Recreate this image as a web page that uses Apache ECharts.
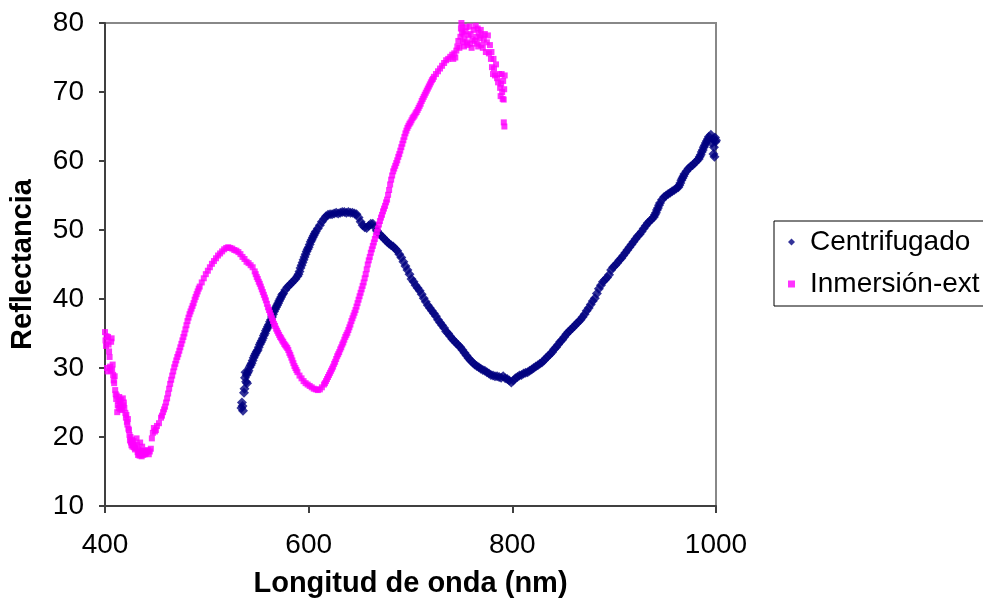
<!DOCTYPE html>
<html>
<head>
<meta charset="utf-8">
<script src="https://cdn.jsdelivr.net/npm/echarts@6/dist/echarts.min.js"></script>
<style>
html,body{margin:0;padding:0;background:#fff;}
#chart{width:983px;height:606px;}
</style>
</head>
<body>
<div id="chart"></div>
<script>
const xTicks = [400, 600, 800, 1000];
const yTicks = [10, 20, 30, 40, 50, 60, 70, 80];
const seriesNames = ['Centrifugado', 'Inmersión-ext'];
const xTitle = 'Longitud de onda (nm)';
const yTitle = 'Reflectancia';

const centrifugado = [
[534,24.2],[534.5,25.0],[535,24.5],[535.5,23.8],[536.5,26.4],[537,27.0],[537.5,28.6],[538,29.4],[538.5,28.0],[539,29.0],[539.5,27.8],[540,29.3],
[541,29.6],[542,30.1],[543,30.4],[544,30.7],[545,31.1],[546,31.5],[547,31.8],[548,32.1],[549,32.4],[550,32.6],[551,33.0],[552,33.4],[553,33.7],[554,34.0],[555,34.3],[556,34.7],[557,35.0],[558,35.4],[559,35.7],[560,36.0],[561,36.3],[562,36.7],[563,37.0],[564,37.4],[565,37.8],[566,38.2],[567,38.5],[568,38.8],[569,39.1],[570,39.4],[571,39.7],[572,40.0],[573,40.3],[574,40.6],[575,40.8],[577,41.3],[579,41.7],[581,42.0],[583,42.3],[585,42.6],[587,42.9],[589,43.3],[590,43.6],[591,44.0],[592,44.5],[593,44.9],[594,45.3],[595,45.7],[596,46.1],[597,46.5],[598,46.9],[599,47.2],[600,47.5],[601,47.9],[602,48.3],[603,48.6],[604,48.9],[605,49.2],[606,49.5],[607,49.8],[609,50.2],[611,50.7],[613,51.2],[615,51.6],[617,52.0],[619,52.2],[621,52.3],[623,52.3],[625,52.4],[627,52.5],[629,52.4],[631,52.5],[633,52.6],[635,52.6],[637,52.5],[639,52.6],[641,52.5],[643,52.5],[645,52.4],[647,52.3],
[649,51.8],[651,51.2],[653,50.7],[655,50.4],[657,50.3],[659,50.6],[661,50.9],[663,50.9],[665,50.4],[667,49.9],[669,49.5],[671,49.2],[673,48.9],[675,48.6],[677,48.3],[679,48.0],[681,47.8],[683,47.6],[685,47.3],[687,47.0],[689,46.5],[691,46.0],[693,45.4],[695,44.8],[697,44.2],[699,43.6],
[701,42.9],[703,42.5],[705,42.0],[707,41.6],[709,41.2],[711,40.7],[713,40.1],[715,39.6],[717,39.1],[719,38.7],[721,38.3],[723,37.9],[725,37.5],[727,37.0],[729,36.6],[731,36.2],[733,35.8],[735,35.3],[737,35.0],[739,34.6],[741,34.2],[743,33.9],[745,33.6],[747,33.3],[749,33.0],[751,32.6],[753,32.2],[755,31.8],[757,31.4],[759,31.1],[761,30.8],[763,30.5],[765,30.3],[767,30.1],[769,29.9],[771,29.7],[773,29.6],[775,29.4],[777,29.2],[779,29.0],[781,28.9],[783,28.8],[785,28.8],[787,28.7],[789,28.6],[791,28.8],[793,28.5],[795,28.4],[797,28.2],[799,27.9],
[801,28.2],[803,28.5],[805,28.7],[807,28.9],[809,29.0],[811,29.2],[813,29.3],[815,29.4],[817,29.6],[819,29.8],[821,30.0],[823,30.2],[825,30.4],[827,30.6],[829,30.8],[831,31.1],[833,31.4],[835,31.7],[837,32.0],[839,32.3],
[841,32.7],[843,33.0],[845,33.4],[847,33.8],[849,34.1],[851,34.5],[853,34.9],[855,35.2],[857,35.5],[859,35.8],[861,36.1],[863,36.4],[865,36.7],[867,37.0],[869,37.4],[871,37.8],[873,38.3],[875,38.7],[877,39.2],[879,39.7],[881,40.1],[883,40.8],[885,41.5],[887,42.0],[889,42.5],[891,42.8],[893,43.1],[895,43.5],[897,44.2],[899,44.6],[901,44.9],[903,45.2],[905,45.6],[907,45.9],[909,46.3],[911,46.7],[913,47.1],[915,47.5],[917,47.9],[919,48.3],[921,48.7],[923,49.1],[925,49.4],[927,49.8],[929,50.2],[931,50.6],[933,51.0],[935,51.3],[937,51.6],[939,51.9],[940,52.2],[941,52.5],[942,52.9],[943,53.2],[944,53.6],[945,53.9],[947,54.4],[949,54.8],[951,55.0],[953,55.2],[955,55.4],[957,55.6],[959,55.8],[961,56.0],[963,56.2],[964,56.5],[965,56.8],[966,57.2],[967,57.5],[968,57.8],[969,58.1],[971,58.5],[973,58.9],[975,59.2],[977,59.4],[979,59.7],[981,60.0],[983,60.3],[984,60.6],[985,60.9],[986,61.3],[987,61.6],[988,62.0],[989,62.3],[990,62.6],[991,62.9],[992,63.2],[993,63.5],[995,63.8],[996,62.6],[997,63.2],[997.5,61.0],[998,62.0],[998.5,60.6],[999,63.4],[999.5,62.8],[1000,63.0]
];

const inmersionExt = [
[400,35.2],[400.5,34.0],[401,33.2],[401.5,34.6],[402,30.0],[402.5,29.5],[403,34.5],[403.5,33.4],[404,32.4],[404.5,31.6],[405,30.2],[405.5,29.6],[406,33.8],[406.5,34.3],[407,29.8],[407.5,30.5],[408,29.0],[408.5,28.2],[409,27.8],[409.5,28.8],[410,26.8],[410.5,26.2],[411,25.5],[411.5,26.0],[412,23.6],[412.5,24.6],[413,25.2],[413.5,24.2],[414,25.8],[414.5,24.8],[415,24.0],[415.5,25.4],[416,24.4],[417,23.9],[417.5,25.6],[418,24.6],[418.5,25.0],[419,24.2],[420,23.5],[420.5,22.8],[421,23.2],[421.5,22.2],[422,21.8],[422.5,22.6],[423,21.2],[423.5,21.0],[424,20.3],[424.5,19.5],[425,20.0],[425.5,19.2],[426,18.8],[426.5,19.6],[427,18.6],[427.5,18.9],[428,19.4],[428.5,18.5],[429,18.8],[429.5,18.2],[430,18.4],[431,19.8],[431.5,18.9],[432,17.8],[432.5,17.4],[433,18.2],[433.5,17.6],[434,17.3],[434.5,19.2],[435,18.0],[435.5,17.5],[436,17.2],[436.5,18.6],[437,17.7],[437.5,17.4],[438,17.9],[439,17.5],[439.5,18.0],[440,17.6],[441,17.8],[442,18.1],[443,17.5],[444,17.9],[445,18.3],[446,19.8],[447,20.6],[448,21.3],[449,20.8],[450,21.0],
[451,21.6],[453,22.0],[455,22.8],[456,23.1],[457,23.6],[458,24.0],[459,24.4],[460,25.0],[461,25.6],[462,26.3],[463,27.0],[464,27.7],[465,28.3],[466,28.9],[467,29.5],[468,30.1],[469,30.6],[470,31.1],[471,31.6],[472,32.0],[473,32.5],[474,33.0],[475,33.5],[476,34.0],[477,34.5],[478,35.0],[479,35.6],[480,36.2],[481,36.8],[482,37.3],[483,37.8],[484,38.2],[485,38.6],[486,39.0],[487,39.4],[488,39.9],[489,40.3],[490,40.7],[491,41.1],[492,41.5],[493,41.8],[495,42.4],[497,43.0],[499,43.6],[501,44.1],[503,44.6],[505,45.1],[507,45.5],[509,45.9],[511,46.3],[513,46.6],[515,46.9],[517,47.2],[519,47.4],[521,47.5],[523,47.4],[525,47.3],[527,47.1],[529,47.0],[531,46.8],
[533,46.5],[535,46.1],[537,45.8],[539,45.4],[541,45.2],[543,44.9],[545,44.6],[547,44.0],[548,43.6],[549,43.2],[550,42.9],[551,42.5],[552,42.2],[553,41.8],[554,41.4],[555,41.0],[556,40.6],[557,40.2],[558,39.8],[559,39.3],[560,38.8],[561,38.4],[562,38.0],[563,37.6],[564,37.2],[565,36.8],[566,36.4],[567,36.1],[568,35.7],[569,35.4],[570,35.1],[571,34.8],[572,34.5],[573,34.3],[574,34.0],[575,33.8],[576,33.5],[577,33.3],[578,33.1],[579,32.9],[580,32.6],[581,32.2],[582,31.9],[583,31.5],[584,31.1],[585,30.7],[586,30.3],[587,30.0],[588,29.7],[589,29.4],[591,28.9],[593,28.5],[595,28.1],[597,27.8],[599,27.6],[601,27.4],[603,27.2],[605,27.0],[607,26.9],[609,26.8],[611,26.9],[613,27.2],[615,27.6],[616,27.8],[617,28.1],[618,28.4],[619,28.7],[620,29.0],[621,29.3],[622,29.6],[623,29.9],[624,30.2],[625,30.6],[626,30.9],[627,31.3],[628,31.7],[629,32.0],[630,32.3],[631,32.7],[632,33.0],[633,33.4],[634,33.7],[635,34.1],[636,34.5],[637,34.8],[638,35.1],[639,35.5],[640,35.9],[641,36.3],[642,36.8],[643,37.2],[644,37.6],[645,38.0],[646,38.4],[647,38.9],[648,39.4],[649,39.9],[650,40.4],[651,40.9],[652,41.4],[653,41.9],[654,42.4],[655,43.0],[656,43.6],[657,44.3],[658,45.0],[659,45.6],[660,46.1],[661,46.7],[662,47.2],[663,47.7],[664,48.2],[665,48.7],[666,49.2],[667,49.7],[668,50.2],[669,50.8],[670,51.3],[671,51.8],[672,52.2],[673,52.7],[674,53.1],[675,53.5],[676,54.0],[677,54.4],[678,55.1],[679,55.8],[680,56.6],[681,57.3],[682,57.9],[683,58.5],[684,58.9],[685,59.3],[686,59.7],[687,60.1],[688,60.6],[689,61.0],[690,61.5],[691,62.0],[692,62.5],[693,63.0],[694,63.5],[695,64.0],[696,64.4],[697,64.8],[698,65.1],[699,65.4],[700,65.6],[701,65.9],[702,66.2],[703,66.4],[704,66.6],[705,66.9],[706,67.1],[707,67.4],[708,67.7],[709,68.0],[710,68.3],[711,68.7],[712,69.0],[713,69.3],[714,69.6],[715,69.9],[716,70.2],[717,70.5],[718,70.8],[719,71.1],[720,71.4],[721,71.7],[722,71.9],[723,72.2],[725,72.6],[727,73.0],[729,73.4],[731,73.8],[733,74.2],[735,74.6],[737,74.8],[739,75.1],
[741,75.4],[742,74.8],[743,75.6],[744,75.0],[745,76.0],[746,76.6],[747,77.4],[748,76.4],[749,78.0],[749.5,79.2],[750,80.0],[750.5,78.6],[751,79.4],[751.5,77.2],[752,78.4],[752.5,76.6],[753,77.6],[754,78.8],[755,79.4],[755.5,77.2],[756,76.8],[757,78.2],[758,79.5],[758.5,77.0],[759,78.4],[760,76.4],[761,77.6],[762,79.0],[763,77.4],[764,79.6],[764.5,78.0],[765,77.0],[766,79.2],[766.5,76.6],[767,78.6],[768,77.8],[769,79.0],[769.5,76.8],[770,78.2],[771,76.4],[772,77.6],[773,78.4],[774,75.8],[775,77.2],[776,78.2],[777,75.6],[778,76.8],[779,74.8],[779.5,75.8],[780,73.6],[781,72.6],[781.5,74.8],[782,73.4],[783,72.4],[784,74.0],[785,72.0],[786,71.4],[787,72.6],[788,70.6],[788.5,69.4],[789,71.2],[789.5,72.6],[790,70.0],[790.5,69.0],[791,71.6],[791.5,68.9],[792,70.4],[792.5,72.4],[791.6,65.6],[792.2,65.0]
];

const FONT = 'Liberation Sans, Arial, sans-serif';
const chart = echarts.init(document.getElementById('chart'), null, {renderer: 'canvas'});
chart.setOption({
  animation: false,
  backgroundColor: '#ffffff',
  grid: {left: 105, right: 267, top: 23, bottom: 100, show: true, borderColor: '#888888', borderWidth: 2, backgroundColor: 'transparent'},
  legend: {
    orient: 'vertical', left: 774, top: 221,
    itemWidth: 7, itemHeight: 7, itemGap: 12,
    padding: [6, 12, 7, 14],
    borderColor: '#000000', borderWidth: 1, backgroundColor: '#ffffff',
    textStyle: {fontSize: 28, fontFamily: FONT, color: '#000000', lineHeight: 30, padding: [0, 0, 0, 10]},
    data: [
      {name: seriesNames[0], icon: 'diamond'},
      {name: seriesNames[1], icon: 'rect'}
    ]
  },
  xAxis: {
    type: 'value', min: xTicks[0], max: xTicks[xTicks.length - 1], interval: 200,
    name: xTitle, nameLocation: 'middle', nameGap: 63,
    nameTextStyle: {fontSize: 29, fontWeight: 'bold', fontFamily: FONT, color: '#000000'},
    axisLine: {show: true, onZero: false, lineStyle: {color: '#404040', width: 2}},
    axisTick: {show: true, length: 7, lineStyle: {color: '#404040', width: 2}},
    axisLabel: {fontSize: 28, fontFamily: FONT, color: '#000000', margin: 25, formatter: function (v) { return String(v); }},
    splitLine: {show: false}
  },
  yAxis: {
    type: 'value', min: yTicks[0], max: yTicks[yTicks.length - 1], interval: 10,
    name: yTitle, nameLocation: 'middle', nameGap: 68,
    nameTextStyle: {fontSize: 29, fontWeight: 'bold', fontFamily: FONT, color: '#000000'},
    axisLine: {show: true, onZero: false, lineStyle: {color: '#404040', width: 2}},
    axisTick: {show: true, length: 6, lineStyle: {color: '#404040', width: 2}},
    axisLabel: {fontSize: 28, fontFamily: FONT, color: '#000000', margin: 21, formatter: function (v) { return String(v); }},
    splitLine: {show: false}
  },
  series: [
    {name: seriesNames[0], type: 'scatter', data: centrifugado, symbol: 'diamond', symbolSize: 10,
     itemStyle: {color: '#000080'}, clip: false},
    {name: seriesNames[1], type: 'scatter', data: inmersionExt, symbol: 'rect', symbolSize: 6,
     itemStyle: {color: '#FF00FF'}, clip: false}
  ]
});
</script>
</body>
</html>
